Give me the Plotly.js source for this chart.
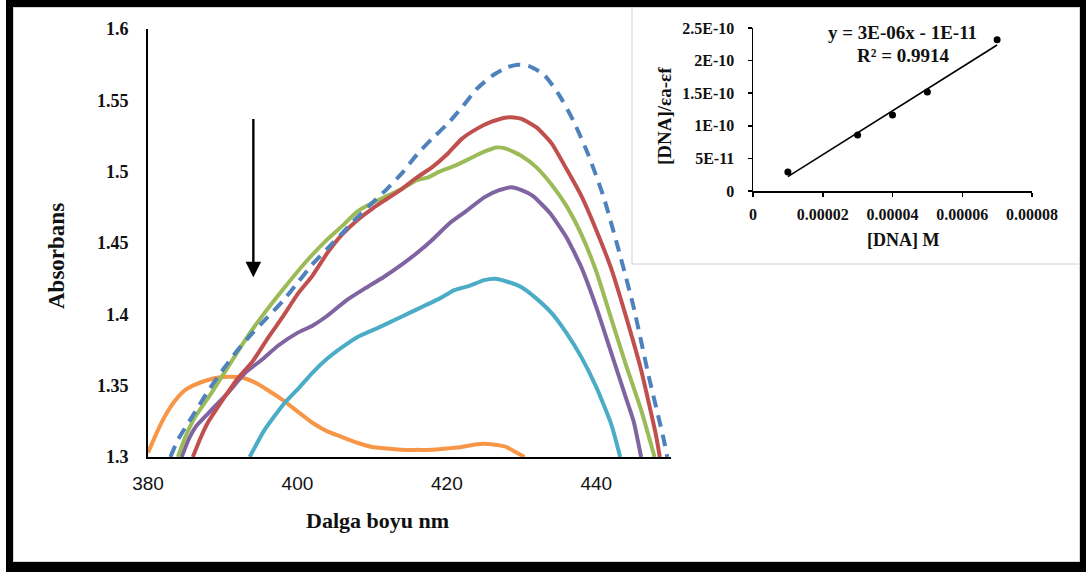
<!DOCTYPE html>
<html>
<head>
<meta charset="utf-8">
<script src="https://cdn.plot.ly/plotly-3.0.1.min.js"></script>
<style>
  html, body { margin: 0; padding: 0; background: #ffffff; }
  #chart { position: absolute; left: 0; top: 0; width: 1086px; height: 574px; }
  #frame { position: absolute; left: 6px; top: 0; width: 1080px; height: 572px; box-sizing: border-box;
           border-style: solid; border-color: #000; border-width: 7px 6px 10px 7px;
           box-shadow: inset 0 0 0 1px #d4d4d4; pointer-events: none; }
</style>
</head>
<body>
<div id="chart"></div>
<div id="frame"></div>
<script>
// ---------------- Main spectra (wavelength nm, absorbance) ----------------
const wlBlue  = [383, 384, 386, 388, 390, 392, 394, 396, 398, 400, 402, 404, 406, 408, 410, 412, 414, 416, 418, 420, 422, 424, 426, 428, 429.5, 431, 433, 435, 437, 439, 441, 443, 445, 447, 449, 449.5];
const absBlue = [1.300, 1.312, 1.329, 1.346, 1.361, 1.375, 1.387, 1.398, 1.409, 1.422, 1.435, 1.446, 1.457, 1.468, 1.478, 1.488, 1.499, 1.512, 1.523, 1.533, 1.545, 1.558, 1.567, 1.573, 1.575, 1.574, 1.568, 1.554, 1.535, 1.511, 1.482, 1.445, 1.405, 1.357, 1.313, 1.300];

const wlRed  = [386, 387, 388, 390, 392, 394, 396, 398, 400, 402, 404, 406, 408, 410, 412, 414, 416, 418, 420, 422, 424, 426, 428, 429, 430, 432, 434, 436, 438, 440, 442, 444, 446, 448, 448.5];
const absRed = [1.300, 1.313, 1.324, 1.340, 1.355, 1.367, 1.383, 1.398, 1.414, 1.427, 1.443, 1.456, 1.466, 1.474, 1.481, 1.488, 1.496, 1.503, 1.512, 1.523, 1.530, 1.535, 1.538, 1.538, 1.537, 1.531, 1.520, 1.502, 1.483, 1.459, 1.432, 1.398, 1.361, 1.315, 1.300];

const wlGreen  = [384, 385, 386.3, 388.5, 390.7, 393, 395.6, 398.3, 401, 403.7, 406, 408, 410, 412, 414, 416, 417.5, 419, 421, 423, 425, 426.6, 428, 430, 432, 434, 436, 438, 440, 442, 444, 446, 447.8];
const absGreen = [1.300, 1.314, 1.328, 1.345, 1.363, 1.382, 1.401, 1.419, 1.436, 1.451, 1.462, 1.472, 1.478, 1.483, 1.488, 1.494, 1.496, 1.500, 1.504, 1.509, 1.514, 1.517, 1.516, 1.511, 1.503, 1.491, 1.476, 1.456, 1.430, 1.397, 1.364, 1.333, 1.300];

const wlPurple  = [384.5, 385.5, 386.5, 388.5, 390.7, 393, 395.2, 397.4, 400, 402, 404, 406.6, 409, 411.5, 414, 416, 418, 420.4, 422.5, 425, 427, 428.6, 430, 431.5, 433.8, 436, 438, 440, 442, 444, 445, 446];
const absPurple = [1.300, 1.313, 1.322, 1.333, 1.345, 1.359, 1.368, 1.378, 1.387, 1.392, 1.399, 1.410, 1.418, 1.426, 1.435, 1.443, 1.452, 1.464, 1.472, 1.482, 1.487, 1.489, 1.487, 1.483, 1.471, 1.454, 1.433, 1.405, 1.373, 1.341, 1.325, 1.300];

const wlCyan  = [393.6, 395.6, 398.3, 400.3, 402, 404, 406, 408, 411, 413, 415, 417, 419, 421, 423, 425, 426.5, 428, 430, 432, 434, 436, 438, 440, 442, 443.2];
const absCyan = [1.300, 1.319, 1.338, 1.349, 1.359, 1.369, 1.377, 1.384, 1.391, 1.396, 1.401, 1.406, 1.411, 1.417, 1.420, 1.424, 1.425, 1.423, 1.419, 1.411, 1.401, 1.387, 1.370, 1.349, 1.323, 1.300];

const wlOrange  = [380, 381, 382, 383, 384, 385, 386, 388, 390, 392, 393, 394, 396, 398, 400, 402, 404, 406, 408, 410, 412, 414, 416, 418, 420, 422, 424, 426, 428, 429, 430.4];
const absOrange = [1.303, 1.315, 1.326, 1.335, 1.342, 1.347, 1.350, 1.354, 1.356, 1.356, 1.355, 1.353, 1.347, 1.340, 1.332, 1.324, 1.318, 1.314, 1.310, 1.307, 1.306, 1.305, 1.305, 1.305, 1.306, 1.307, 1.309, 1.309, 1.307, 1.304, 1.300];

const mainXTicks = [380, 400, 420, 440];
const mainYTicks = [1.3, 1.35, 1.4, 1.45, 1.5, 1.55, 1.6];
const mainYTickText = ['1.3', '1.35', '1.4', '1.45', '1.5', '1.55', '1.6'];

// arrow (wavelength, absorbance from -> to)
const arrowX = 394.1;
const arrowFrom = 1.538;
const arrowTo = 1.426;

// ---------------- Inset: [DNA] vs [DNA]/(εa-εf) ----------------
const dnaConc = [0.00001, 0.00003, 0.00004, 0.00005, 0.00007];
const dnaRatio = [2.9e-11, 8.6e-11, 1.165e-10, 1.52e-10, 2.32e-10];
const fitX = [0.00001, 0.00007];
const fitY = [2.2e-11, 2.24e-10];
const insetXTicks = [0, 0.00002, 0.00004, 0.00006, 0.00008];
const insetXTickText = ['0', '0.00002', '0.00004', '0.00006', '0.00008'];
const insetYTicks = [0, 5e-11, 1e-10, 1.5e-10, 2e-10, 2.5e-10];
const insetYTickText = ['0', '5E-11', '1E-10', '1.5E-10', '2E-10', '2.5E-10'];
const eqLine1 = 'y = 3E-06x - 1E-11';
const eqLine2 = 'R² = 0.9914';

// ---------------- layout helpers (pixel -> paper) ----------------
const L = 148, T = 27, W = 884, H = 430;
const px = v => (v - L) / W;
const py = v => (T + H - v) / H;

const serif = 'Liberation Serif, Times New Roman, serif';
const sans = 'Liberation Sans, Arial, sans-serif';

function spec(x, y, color, dash) {
  return { x: x, y: y, type: 'scatter', mode: 'lines', xaxis: 'x', yaxis: 'y',
           line: { color: color, width: 4, dash: dash || 'solid', shape: 'spline', smoothing: 0.5 },
           hoverinfo: 'skip' };
}

const traces = [
  spec(wlOrange, absOrange, '#F79646'),
  spec(wlCyan, absCyan, '#4BACC6'),
  spec(wlPurple, absPurple, '#8064A2'),
  spec(wlGreen, absGreen, '#9BBB59'),
  spec(wlRed, absRed, '#C0504D'),
  spec(wlBlue, absBlue, '#4F81BD', '12px,8px'),
  { x: fitX, y: fitY, type: 'scatter', mode: 'lines', xaxis: 'x2', yaxis: 'y2',
    line: { color: '#000', width: 1.6 }, hoverinfo: 'skip' },
  { x: dnaConc, y: dnaRatio, type: 'scatter', mode: 'markers', xaxis: 'x2', yaxis: 'y2',
    marker: { color: '#000', size: 7 }, hoverinfo: 'skip' }
];

const layout = {
  width: 1086, height: 574,
  margin: { l: L, r: 1086 - L - W, t: T, b: 574 - T - H },
  paper_bgcolor: '#ffffff', plot_bgcolor: 'rgba(0,0,0,0)',
  showlegend: false,
  xaxis: {
    domain: [0, px(671)], range: [380, 450], anchor: 'y',
    showline: true, linecolor: '#000', linewidth: 2, showgrid: false, zeroline: false,
    tickvals: mainXTicks, ticks: '', ticklabelstandoff: 8,
    tickfont: { family: sans, size: 19, color: '#111' }
  },
  yaxis: {
    domain: [0, py(29)], range: [1.3, 1.6], anchor: 'x',
    showline: true, linecolor: '#000', linewidth: 2, showgrid: false, zeroline: false,
    tickvals: mainYTicks, ticktext: mainYTickText, ticks: '', ticklabelstandoff: 14,
    tickfont: { family: serif, size: 18, color: '#111', weight: 'bold' }
  },
  xaxis2: {
    domain: [px(753), 1], range: [0, 0.00008], anchor: 'y2',
    showline: true, linecolor: '#000', linewidth: 1.5, showgrid: false, zeroline: false,
    tickvals: insetXTicks, ticktext: insetXTickText, ticks: 'outside', ticklen: 4, tickwidth: 1.5, tickcolor: '#000',
    ticklabelstandoff: 4,
    tickfont: { family: serif, size: 16, color: '#111', weight: 'bold' }
  },
  yaxis2: {
    domain: [py(191), py(28)], range: [0, 2.5e-10], anchor: 'x2',
    showline: true, linecolor: '#000', linewidth: 1.5, showgrid: false, zeroline: false,
    tickvals: insetYTicks, ticktext: insetYTickText, ticks: 'outside', ticklen: 4, tickwidth: 1.5, tickcolor: '#000',
    ticklabelstandoff: 10,
    tickfont: { family: serif, size: 16, color: '#111', weight: 'bold' }
  },
  shapes: [
    { type: 'rect', xref: 'paper', yref: 'paper', x0: px(632), x1: px(1084), y0: py(264), y1: py(6),
      line: { color: '#d0d0d0', width: 1 }, fillcolor: '#ffffff', layer: 'below' }
  ],
  annotations: [
    { xref: 'x', yref: 'y', axref: 'x', ayref: 'y', x: arrowX, y: arrowTo, ax: arrowX, ay: arrowFrom,
      showarrow: true, arrowhead: 2, arrowsize: 1.3, arrowwidth: 2.4, arrowcolor: '#000', text: '' },
    { xref: 'paper', yref: 'paper', x: px(377), y: py(520), text: 'Dalga boyu nm', showarrow: false,
      xanchor: 'center', yanchor: 'middle', font: { family: serif, size: 22, color: '#111', weight: 'bold' } },
    { xref: 'paper', yref: 'paper', x: px(56), y: py(256), text: 'Absorbans', showarrow: false, textangle: -90,
      xanchor: 'center', yanchor: 'middle', font: { family: serif, size: 23, color: '#111', weight: 'bold' } },
    { xref: 'paper', yref: 'paper', x: px(902), y: py(32), text: eqLine1, showarrow: false,
      xanchor: 'center', yanchor: 'middle', font: { family: serif, size: 19, color: '#111', weight: 'bold' } },
    { xref: 'paper', yref: 'paper', x: px(903), y: py(56), text: eqLine2, showarrow: false,
      xanchor: 'center', yanchor: 'middle', font: { family: serif, size: 19, color: '#111', weight: 'bold' } },
    { xref: 'paper', yref: 'paper', x: px(903), y: py(240), text: '[DNA] M', showarrow: false,
      xanchor: 'center', yanchor: 'middle', font: { family: serif, size: 18, color: '#111', weight: 'bold' } },
    { xref: 'paper', yref: 'paper', x: px(664), y: py(116), text: '[DNA]/εa-εf', showarrow: false, textangle: -90,
      xanchor: 'center', yanchor: 'middle', font: { family: serif, size: 19, color: '#111', weight: 'bold' } }
  ]
};

Plotly.newPlot('chart', traces, layout, { staticPlot: true, displayModeBar: false });
</script>
</body>
</html>
